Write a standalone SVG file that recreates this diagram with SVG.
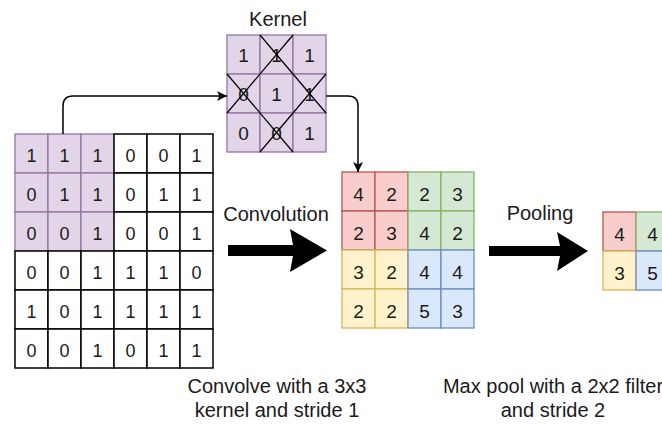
<svg xmlns="http://www.w3.org/2000/svg" width="662" height="431" viewBox="0 0 662 431">
<style>
text{font-family:"Liberation Sans",Arial,sans-serif;fill:#1a1a1a;text-anchor:middle}
.d{font-size:18px}
.k{font-size:19px}
.lbl{font-size:20px}
.w{fill:#ffffff;stroke:#000;stroke-width:1.5}
.p{fill:#e1d5e7;stroke:#9673a6;stroke-width:1.3}
.r{fill:#f8cecc;stroke:#b85450;stroke-width:1.3}
.g{fill:#d5e8d4;stroke:#82b366;stroke-width:1.3}
.y{fill:#fff2cc;stroke:#d6b656;stroke-width:1.3}
.b{fill:#dae8fc;stroke:#6c8ebf;stroke-width:1.3}
.ln{fill:none;stroke:#000;stroke-width:1.5}
.x{stroke:#000;stroke-width:1.2}
</style>
<defs>
<marker id="ah" viewBox="0 0 10 10" refX="10" refY="5" markerWidth="11" markerHeight="10" markerUnits="userSpaceOnUse" orient="auto">
<path d="M0,0 L10,5 L0,10 L2.5,5 z" fill="#000"/>
</marker>
</defs>
<rect width="662" height="431" fill="#ffffff"/>

<g id="input-matrix">
<rect class="p" x="15" y="134" width="33" height="39"/><rect class="p" x="48" y="134" width="33" height="39"/><rect class="p" x="81" y="134" width="33" height="39"/>
<rect class="p" x="15" y="173" width="33" height="39"/><rect class="p" x="48" y="173" width="33" height="39"/><rect class="p" x="81" y="173" width="33" height="39"/>
<rect class="p" x="15" y="212" width="33" height="39"/><rect class="p" x="48" y="212" width="33" height="39"/><rect class="p" x="81" y="212" width="33" height="39"/>
<rect class="w" x="114" y="134" width="33" height="39"/><rect class="w" x="147" y="134" width="33" height="39"/><rect class="w" x="180" y="134" width="33" height="39"/>
<rect class="w" x="114" y="173" width="33" height="39"/><rect class="w" x="147" y="173" width="33" height="39"/><rect class="w" x="180" y="173" width="33" height="39"/>
<rect class="w" x="114" y="212" width="33" height="39"/><rect class="w" x="147" y="212" width="33" height="39"/><rect class="w" x="180" y="212" width="33" height="39"/>
<rect class="w" x="15" y="251" width="33" height="39"/><rect class="w" x="48" y="251" width="33" height="39"/><rect class="w" x="81" y="251" width="33" height="39"/><rect class="w" x="114" y="251" width="33" height="39"/><rect class="w" x="147" y="251" width="33" height="39"/><rect class="w" x="180" y="251" width="33" height="39"/>
<rect class="w" x="15" y="290" width="33" height="39"/><rect class="w" x="48" y="290" width="33" height="39"/><rect class="w" x="81" y="290" width="33" height="39"/><rect class="w" x="114" y="290" width="33" height="39"/><rect class="w" x="147" y="290" width="33" height="39"/><rect class="w" x="180" y="290" width="33" height="39"/>
<rect class="w" x="15" y="329" width="33" height="39"/><rect class="w" x="48" y="329" width="33" height="39"/><rect class="w" x="81" y="329" width="33" height="39"/><rect class="w" x="114" y="329" width="33" height="39"/><rect class="w" x="147" y="329" width="33" height="39"/><rect class="w" x="180" y="329" width="33" height="39"/>
<g class="d">
<text x="31.5" y="161.5">1</text><text x="64.5" y="161.5">1</text><text x="97.5" y="161.5">1</text><text x="130.5" y="161.5">0</text><text x="163.5" y="161.5">0</text><text x="196.5" y="161.5">1</text>
<text x="31.5" y="200.5">0</text><text x="64.5" y="200.5">1</text><text x="97.5" y="200.5">1</text><text x="130.5" y="200.5">0</text><text x="163.5" y="200.5">1</text><text x="196.5" y="200.5">1</text>
<text x="31.5" y="239.5">0</text><text x="64.5" y="239.5">0</text><text x="97.5" y="239.5">1</text><text x="130.5" y="239.5">0</text><text x="163.5" y="239.5">0</text><text x="196.5" y="239.5">1</text>
<text x="31.5" y="278.5">0</text><text x="64.5" y="278.5">0</text><text x="97.5" y="278.5">1</text><text x="130.5" y="278.5">1</text><text x="163.5" y="278.5">1</text><text x="196.5" y="278.5">0</text>
<text x="31.5" y="317.5">1</text><text x="64.5" y="317.5">0</text><text x="97.5" y="317.5">1</text><text x="130.5" y="317.5">1</text><text x="163.5" y="317.5">1</text><text x="196.5" y="317.5">1</text>
<text x="31.5" y="356.5">0</text><text x="64.5" y="356.5">0</text><text x="97.5" y="356.5">1</text><text x="130.5" y="356.5">0</text><text x="163.5" y="356.5">1</text><text x="196.5" y="356.5">1</text>
</g>
</g>

<g id="kernel">
<text class="lbl" x="278" y="26">Kernel</text>
<rect class="p" x="227" y="35" width="33" height="39"/><rect class="p" x="260" y="35" width="33" height="39"/><rect class="p" x="293" y="35" width="33" height="39"/>
<rect class="p" x="227" y="74" width="33" height="39"/><rect class="p" x="260" y="74" width="33" height="39"/><rect class="p" x="293" y="74" width="33" height="39"/>
<rect class="p" x="227" y="113" width="33" height="39"/><rect class="p" x="260" y="113" width="33" height="39"/><rect class="p" x="293" y="113" width="33" height="39"/>
<g class="k">
<text x="243.5" y="62">1</text><text x="276.5" y="62">1</text><text x="309.5" y="62">1</text>
<text x="243.5" y="101">0</text><text x="276.5" y="101">1</text><text x="309.5" y="101">1</text>
<text x="243.5" y="140">0</text><text x="276.5" y="140">0</text><text x="309.5" y="140">1</text>
</g>
<line class="x" x1="260" y1="35" x2="326" y2="113"/>
<line class="x" x1="293" y1="35" x2="227" y2="113"/>
<line class="x" x1="227" y1="74" x2="293" y2="152"/>
<line class="x" x1="326" y1="74" x2="260" y2="152"/>
</g>

<g id="conv-output">
<rect class="r" x="342" y="172" width="33" height="39"/><rect class="r" x="375" y="172" width="33" height="39"/>
<rect class="r" x="342" y="211" width="33" height="39"/><rect class="r" x="375" y="211" width="33" height="39"/>
<rect class="g" x="408" y="172" width="33" height="39"/><rect class="g" x="441" y="172" width="33" height="39"/>
<rect class="g" x="408" y="211" width="33" height="39"/><rect class="g" x="441" y="211" width="33" height="39"/>
<rect class="y" x="342" y="250" width="33" height="39"/><rect class="y" x="375" y="250" width="33" height="39"/>
<rect class="y" x="342" y="289" width="33" height="39"/><rect class="y" x="375" y="289" width="33" height="39"/>
<rect class="b" x="408" y="250" width="33" height="39"/><rect class="b" x="441" y="250" width="33" height="39"/>
<rect class="b" x="408" y="289" width="33" height="39"/><rect class="b" x="441" y="289" width="33" height="39"/>
<g class="k">
<text x="358.5" y="201">4</text><text x="391.5" y="201">2</text><text x="424.5" y="201">2</text><text x="457.5" y="201">3</text>
<text x="358.5" y="240">2</text><text x="391.5" y="240">3</text><text x="424.5" y="240">4</text><text x="457.5" y="240">2</text>
<text x="358.5" y="279">3</text><text x="391.5" y="279">2</text><text x="424.5" y="279">4</text><text x="457.5" y="279">4</text>
<text x="358.5" y="318">2</text><text x="391.5" y="318">2</text><text x="424.5" y="318">5</text><text x="457.5" y="318">3</text>
</g>
</g>

<g id="pool-output">
<rect class="r" x="603" y="212" width="33" height="39"/><rect class="g" x="636" y="212" width="33" height="39"/>
<rect class="y" x="603" y="251" width="33" height="39"/><rect class="b" x="636" y="251" width="33" height="39"/>
<g class="k">
<text x="619.5" y="241">4</text><text x="652.5" y="241">4</text>
<text x="619.5" y="280">3</text><text x="652.5" y="280">5</text>
</g>
</g>

<g id="conv-label">
<text class="lbl" x="276" y="221">Convolution</text>
<text class="lbl" x="277" y="393">Convolve with a 3x3</text>
<text class="lbl" x="277" y="417">kernel and stride 1</text>
</g>

<g id="pool-label">
<text class="lbl" x="540" y="220">Pooling</text>
<text class="lbl" x="553" y="393">Max pool with a 2x2 filter</text>
<text class="lbl" x="553" y="417">and stride 2</text>
</g>

<g id="connectors">
<path class="ln" d="M63,134 V106 Q63,96 73,96 H227" marker-end="url(#ah)"/>
<path class="ln" d="M326,96 H348 Q358,96 358,106 V172" marker-end="url(#ah)"/>
<polygon points="228,245 293,245 290,229 327,250.5 290,272 293,256 228,256" fill="#000"/>
<polygon points="489,246 560,246 557,232 588,251 557,271 560,256 489,256" fill="#000"/>
</g>
</svg>
